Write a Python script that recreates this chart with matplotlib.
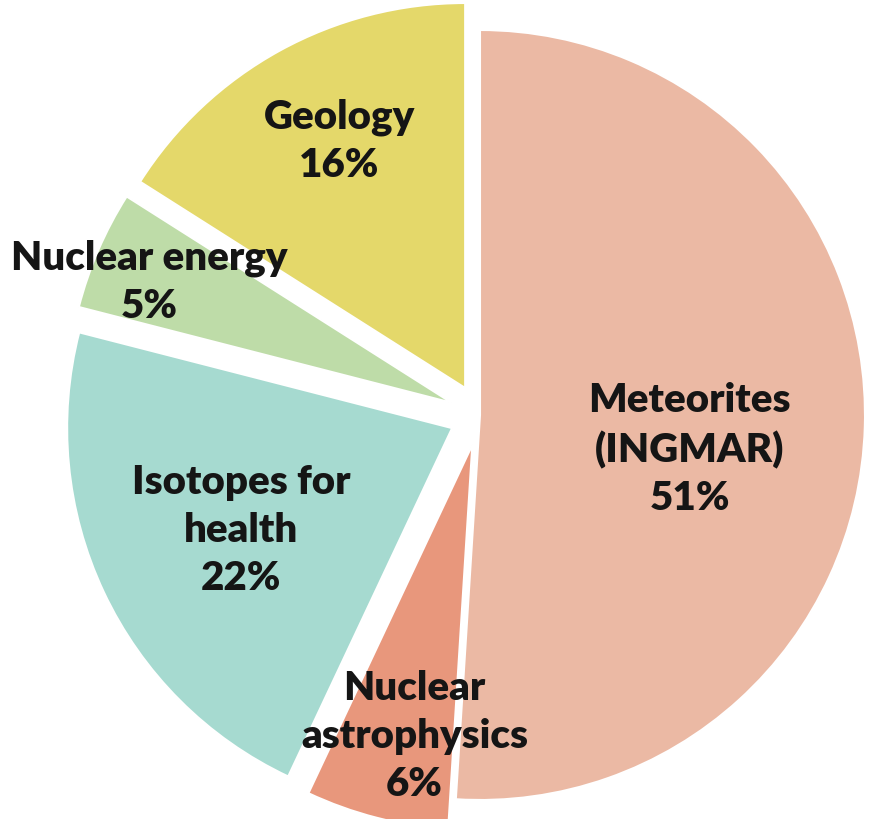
import matplotlib.pyplot as plt

plt.rcParams['font.family'] = ['Lato', 'DejaVu Sans']

# 各研究方向占比（%）
labels = ['Meteorites\n(INGMAR)', 'Nuclear\nastrophysics', 'Isotopes for\nhealth',
          'Nuclear energy', 'Geology']
shares = [51, 6, 22, 5, 16]
colors = ['#EBB9A4', '#E8977C', '#A6DAD0', '#BEDCA8', '#E4D86A']
explode = [0, 0.08, 0.08, 0.08, 0.08]

# 文字位置（数据坐标，饼图半径为 1）
label_pos = [(0.545, -0.09), (-0.17, -0.835), (-0.62, -0.30),
             (-0.86, 0.345), (-0.365, 0.71)]

fig = plt.figure(figsize=(8.76, 8.19), dpi=100)
ax = fig.add_axes([0, 0, 1, 1])

ax.pie(shares, colors=colors, explode=explode, startangle=90,
       counterclock=False, radius=1,
       wedgeprops=dict(edgecolor='white', linewidth=1.5))

for lab, val, (x, y) in zip(labels, shares, label_pos):
    ax.text(x, y, f'{lab}\n{val}%', ha='center', va='center',
            multialignment='center', fontsize=29, fontweight='heavy',
            linespacing=1.36, color='#151515')

# 让饼图中心和半径落在固定的像素位置
ax.set_xlim(-480 / 385, (876 - 480) / 385)
ax.set_ylim(-(819 - 415) / 385, 415 / 385)
ax.set_aspect('auto')
ax.axis('off')

fig.savefig('out.png', dpi=100)
